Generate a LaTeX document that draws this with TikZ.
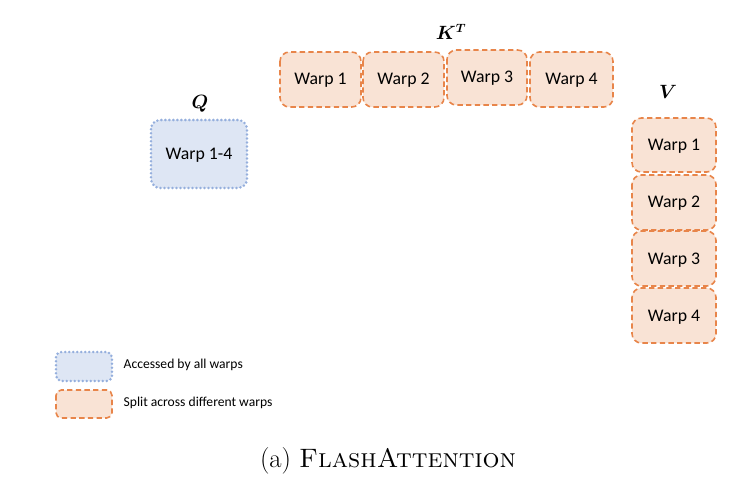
\documentclass[tikz,border=0pt]{standalone}
\usepackage{amsmath,bm}
\usepackage{fontspec}
\newfontfamily\calib{Carlito}
\definecolor{bfill}{HTML}{DEE6F4}
\definecolor{bdraw}{HTML}{95AFDD}
\definecolor{ofill}{HTML}{F9E3D5}
\definecolor{odraw}{HTML}{E8854A}
\begin{document}
\begin{tikzpicture}[x=0.75pt,y=-0.75pt,
  shared/.style={draw=bdraw,fill=bfill,line width=2.1pt,dash pattern=on 0pt off 3pt,line cap=round,rounded corners=7pt},
  split/.style={draw=odraw,fill=ofill,line width=1.2pt,dash pattern=on 4pt off 2.5pt,rounded corners=7pt},
  wtxt/.style={font=\calib\fontsize{13.3}{15}\selectfont},
  ltxt/.style={font=\calib\fontsize{10.2}{12}\selectfont,anchor=west},
  mlbl/.style={font=\fontsize{13.5}{15}\selectfont}]
\useasboundingbox (0,0) rectangle (751,487);
% Q
\node[mlbl] (qlbl) at (200,104) {$\bm{Q}$};
\draw[shared] (151,120) rectangle (247,188);
\node[wtxt] (q) at (199,155) {Warp 1-4};
% K^T
\node[mlbl] (klbl) at (451,32) {$\bm{K^T}$};
\draw[split] (280,52) rectangle (361,107);
\node[wtxt] (k1) at (320.5,80) {Warp 1};
\draw[split] (363,52) rectangle (444,107);
\node[wtxt] (k2) at (403.5,80) {Warp 2};
\draw[split] (447,50) rectangle (527,105);
\node[wtxt] (k3) at (487,78) {Warp 3};
\draw[split] (530,52) rectangle (613,107);
\node[wtxt] (k4) at (571.5,80) {Warp 4};
% V
\node[mlbl] (vlbl) at (668,92) {$\bm{V}$};
\draw[split] (632,118) rectangle (716,172);
\node[wtxt] (v1) at (674,146) {Warp 1};
\draw[split] (632,175) rectangle (716,230);
\node[wtxt] (v2) at (674,203) {Warp 2};
\draw[split] (632,231) rectangle (716,286);
\node[wtxt] (v3) at (674,260) {Warp 3};
\draw[split] (632,288) rectangle (716,343);
\node[wtxt] (v4) at (674,317) {Warp 4};
% legend
\draw[shared,rounded corners=4pt] (56,352) rectangle (112,381);
\node[ltxt] (l1) at (119,365) {Accessed by all warps};
\draw[split,rounded corners=4pt] (56,390) rectangle (112,418);
\node[ltxt] (l2) at (119,403) {Split across different warps};
% caption
\node[font=\fontsize{20}{24}\selectfont] (cap) at (388,461) {(a) \textsc{FlashAttention}};
\end{tikzpicture}
\end{document}
